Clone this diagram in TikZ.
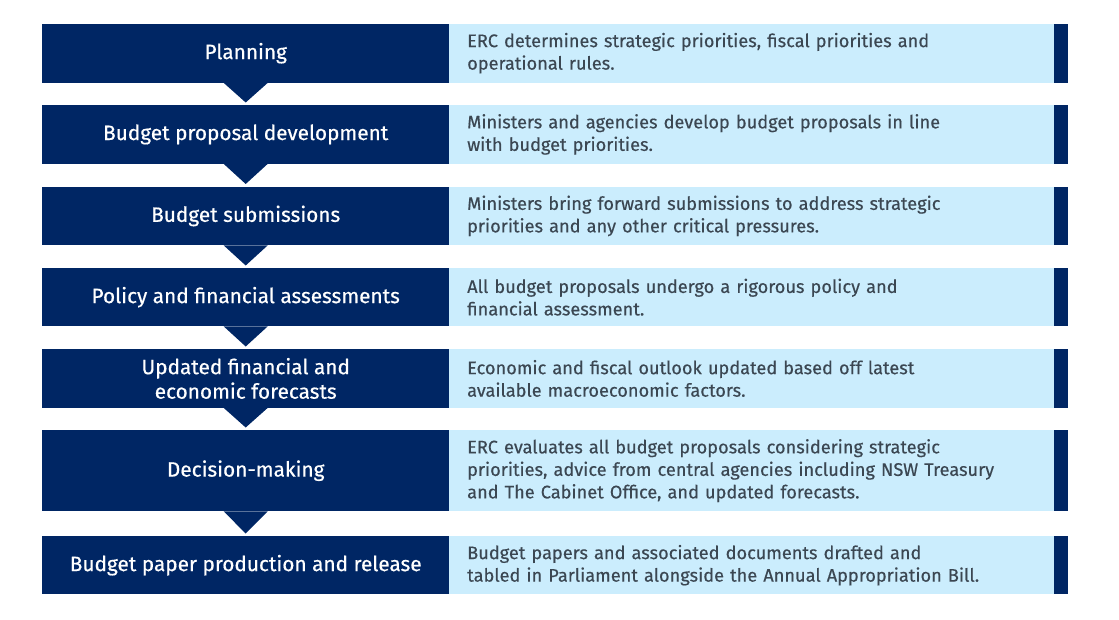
\documentclass[tikz,border=0pt]{standalone}
\usepackage{fontspec}
\setmainfont{Fira Sans}
\newfontfamily\stagefont{Fira Sans}[FakeBold=0.5]
\newfontfamily\descfont{Fira Sans}[FakeBold=0.35]
\usetikzlibrary{calc}
\definecolor{navy}{HTML}{002664}
\definecolor{paleblue}{HTML}{CBEDFD}
\definecolor{bodytext}{HTML}{3B4752}
\tikzset{
  stagebox/.style={fill=navy, text=white, inner sep=0pt, minimum width=407pt, align=center,
    font=\stagefont\fontsize{20.8}{24.5}\selectfont, anchor=north west},
  descbox/.style={fill=paleblue, text=bodytext, inner xsep=18pt, inner ysep=0pt, minimum width=605pt,
    text width=569pt, align=left, font=\descfont\fontsize{18.2}{22.5}\selectfont, anchor=north west},
  endstrip/.style={fill=navy, inner sep=0pt, minimum width=14pt, anchor=north west},
  pointer/.style={fill=navy}
}
\begin{document}
\begin{tikzpicture}[x=1pt,y=-1pt]
\useasboundingbox (0,0) rectangle (1119,620);
\foreach \n/\t/\h/\L/\R in {
  1/23.5/59/{Planning}/{ERC determines strategic priorities, fiscal priorities and\\operational rules.},
  2/105/58.5/{Budget proposal development}/{Ministers and agencies develop budget proposals in line\\with budget priorities.},
  3/186.5/58.5/{Budget submissions}/{Ministers bring forward submissions to address strategic\\priorities and any other critical pressures.},
  4/268/58/{Policy and financial assessments}/{All budget proposals undergo a rigorous policy and\\financial assessment.},
  5/349/58.5/{Updated financial and\\economic forecasts}/{Economic and fiscal outlook updated based off latest\\available macroeconomic factors.},
  6/430/81/{Decision-making}/{ERC evaluates all budget proposals considering strategic\\priorities, advice from central agencies including NSW Treasury\\and The Cabinet Office, and updated forecasts.},
  7/536/58/{Budget paper production and release}/{Budget papers and associated documents drafted and\\tabled in Parliament alongside the Annual Appropriation Bill.}}
{
  \node[stagebox, minimum height=\h pt] (s\n) at (42,\t) {\L};
  \node[descbox, minimum height=\h pt] (d\n) at (449,\t) {\R};
  \node[endstrip, minimum height=\h pt] (e\n) at (1054,\t) {};
}
\foreach \a/\b in {1/2,2/3,3/4,4/5,5/6,6/7}{
  \fill[pointer] ($(s\a.south)+(-22,0)$) -- ($(s\a.south)+(22,0)$) -- ($(s\b.north)+(0,-2.5)$) -- cycle;
}
\end{tikzpicture}
\end{document}
